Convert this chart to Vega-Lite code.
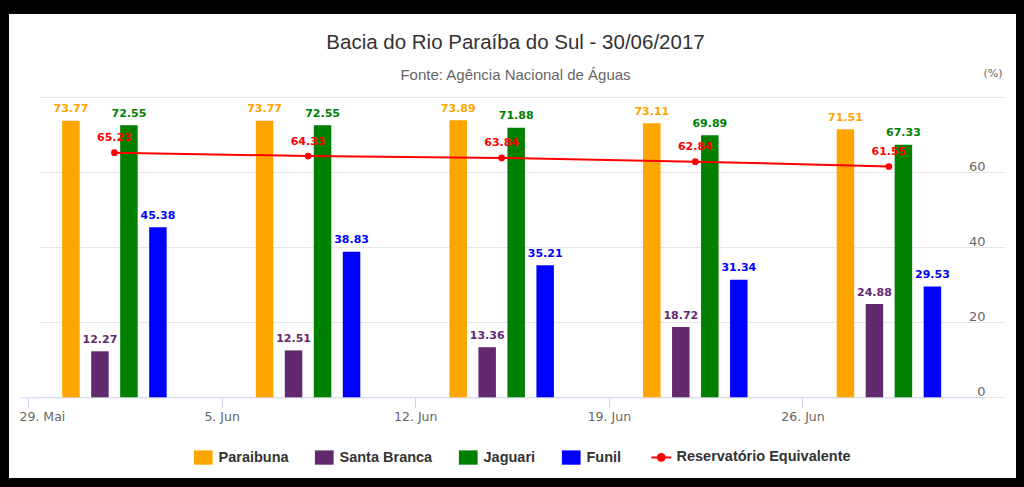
{
  "$schema": "https://vega.github.io/schema/vega-lite/v6.json",
  "width": 1007,
  "height": 464,
  "autosize": {"type": "none"},
  "padding": {"left": 9, "top": 14, "right": 8, "bottom": 9},
  "background": "#000000",
  "config": {"view": {"fill": "#ffffff", "stroke": null}},
  "title": {
    "text": "Bacia do Rio Paraíba do Sul - 30/06/2017",
    "subtitle": "Fonte: Agência Nacional de Águas",
    "anchor": "middle",
    "frame": "group",
    "offset": -69,
    "dx": 3,
    "font": "Liberation Sans",
    "fontSize": 20.5,
    "fontWeight": "normal",
    "color": "#333333",
    "subtitleFont": "Liberation Sans",
    "subtitleFontSize": 15,
    "subtitleColor": "#666666",
    "subtitlePadding": 15
  },
  "data": {
    "values": [
      {"date": "2017-06-01T03:00:00Z", "series": "Paraibuna", "value": 73.77},
      {"date": "2017-06-01T03:00:00Z", "series": "Santa Branca", "value": 12.27},
      {"date": "2017-06-01T03:00:00Z", "series": "Jaguari", "value": 72.55},
      {"date": "2017-06-01T03:00:00Z", "series": "Funil", "value": 45.38},
      {"date": "2017-06-01T03:00:00Z", "series": "Reservatório Equivalente", "value": 65.23},
      {"date": "2017-06-08T03:00:00Z", "series": "Paraibuna", "value": 73.77},
      {"date": "2017-06-08T03:00:00Z", "series": "Santa Branca", "value": 12.51},
      {"date": "2017-06-08T03:00:00Z", "series": "Jaguari", "value": 72.55},
      {"date": "2017-06-08T03:00:00Z", "series": "Funil", "value": 38.83},
      {"date": "2017-06-08T03:00:00Z", "series": "Reservatório Equivalente", "value": 64.33},
      {"date": "2017-06-15T03:00:00Z", "series": "Paraibuna", "value": 73.89},
      {"date": "2017-06-15T03:00:00Z", "series": "Santa Branca", "value": 13.36},
      {"date": "2017-06-15T03:00:00Z", "series": "Jaguari", "value": 71.88},
      {"date": "2017-06-15T03:00:00Z", "series": "Funil", "value": 35.21},
      {"date": "2017-06-15T03:00:00Z", "series": "Reservatório Equivalente", "value": 63.84},
      {"date": "2017-06-22T03:00:00Z", "series": "Paraibuna", "value": 73.11},
      {"date": "2017-06-22T03:00:00Z", "series": "Santa Branca", "value": 18.72},
      {"date": "2017-06-22T03:00:00Z", "series": "Jaguari", "value": 69.89},
      {"date": "2017-06-22T03:00:00Z", "series": "Funil", "value": 31.34},
      {"date": "2017-06-22T03:00:00Z", "series": "Reservatório Equivalente", "value": 62.84},
      {"date": "2017-06-29T03:00:00Z", "series": "Paraibuna", "value": 71.51},
      {"date": "2017-06-29T03:00:00Z", "series": "Santa Branca", "value": 24.88},
      {"date": "2017-06-29T03:00:00Z", "series": "Jaguari", "value": 67.33},
      {"date": "2017-06-29T03:00:00Z", "series": "Funil", "value": 29.53},
      {"date": "2017-06-29T03:00:00Z", "series": "Reservatório Equivalente", "value": 61.55}
    ]
  },
  "encoding": {
    "x": {
      "field": "date",
      "type": "temporal",
      "scale": {
        "type": "utc",
        "domain": [
          {"year": 2017, "month": 5, "date": 28, "hours": 17, "minutes": 4, "utc": true},
          {"year": 2017, "month": 7, "date": 2, "hours": 14, "minutes": 22, "utc": true}
        ],
        "range": [11, 976],
        "padding": 0
      },
      "axis": {
        "values": [
          {"year": 2017, "month": 5, "date": 29, "utc": true},
          {"year": 2017, "month": 6, "date": 5, "utc": true},
          {"year": 2017, "month": 6, "date": 12, "utc": true},
          {"year": 2017, "month": 6, "date": 19, "utc": true},
          {"year": 2017, "month": 6, "date": 26, "utc": true}
        ],
        "labelExpr": "utcdate(datum.value) + '. ' + (utcmonth(datum.value) == 4 ? 'Mai' : 'Jun')",
        "offset": -80.7,
        "title": null,
        "grid": false,
        "domainColor": "#ccd6eb",
        "tickColor": "#ccd6eb",
        "tickSize": 10,
        "labelColor": "#666666",
        "labelFont": "DejaVu Sans",
        "labelFontSize": 12.5,
        "labelPadding": 3.5,
        "labelFlush": 20,
        "labelFlushOffset": 9,
        "labelOverlap": false
      }
    },
    "y": {
      "field": "value",
      "type": "quantitative",
      "stack": null,
      "scale": {"domain": [0, 80], "range": [383.3, 83.3], "nice": false, "zero": false},
      "axis": {
        "orient": "right",
        "values": [0, 20, 40, 60, 80],
        "domain": false,
        "ticks": false,
        "labelAlign": "right",
        "labelPadding": -31,
        "labelBaseline": "alphabetic",
        "labelOffset": -2,
        "labelExpr": "datum.value == 80 ? '' : datum.label",
        "labelColor": "#666666",
        "labelFont": "DejaVu Sans",
        "labelFontSize": 13,
        "gridColor": "#e6e6e6",
        "title": "(%)",
        "titleAngle": 0,
        "titleX": -23.5,
        "titleY": 59.5,
        "titleAlign": "center",
        "titleBaseline": "middle",
        "titleColor": "#666666",
        "titleFont": "DejaVu Sans",
        "titleFontSize": 11,
        "titleFontWeight": "normal"
      }
    },
    "color": {
      "field": "series",
      "type": "nominal",
      "scale": {
        "domain": ["Paraibuna", "Santa Branca", "Jaguari", "Funil", "Reservatório Equivalente"],
        "range": ["#ffa500", "#63296f", "#008000", "#0000ff", "#ff0000"]
      },
      "legend": {
        "orient": "none",
        "legendX": 187,
        "legendY": 436,
        "direction": "horizontal",
        "title": null,
        "padding": 0,
        "labelFont": "Liberation Sans",
        "labelFontSize": 14.5,
        "labelFontWeight": "bold",
        "labelColor": "#333333",
        "labelLimit": 400,
        "symbolSize": 350,
        "labelOffset": 8,
        "columnPadding": 25,
        "symbolType": "square",
        "encode": {
          "symbols": {
            "update": {
              "shape": {"signal": "datum.value == 'Reservatório Equivalente' ? 'M-1.07,0H1.07M0.37,0A0.37,0.37,0,1,1,-0.37,0A0.37,0.37,0,1,1,0.37,0Z' : 'M-1,-0.765H1V0.765H-1Z'"},
              "strokeWidth": {"signal": "datum.value == 'Reservatório Equivalente' ? 2 : 0"},
              "fill": {"scale": "color", "field": "value"},
              "stroke": {"scale": "color", "field": "value"},
              "opacity": {"value": 1},
              "fillOpacity": {"value": 1}
            }
          }
        }
      }
    }
  },
  "layer": [
    {
      "transform": [{"filter": "datum.series != 'Reservatório Equivalente'"}],
      "mark": {
        "type": "bar",
        "width": 17.5,
        "xOffset": {"expr": "datum.series == 'Paraibuna' ? -43.5 : datum.series == 'Santa Branca' ? -14.5 : datum.series == 'Jaguari' ? 14.5 : 43.5"}
      }
    },
    {
      "transform": [{"filter": "datum.series != 'Reservatório Equivalente'"}],
      "mark": {
        "type": "text",
        "baseline": "alphabetic",
        "dy": -8.5,
        "font": "DejaVu Sans",
        "fontSize": 11,
        "fontWeight": "bold",
        "xOffset": {"expr": "datum.series == 'Paraibuna' ? -43.5 : datum.series == 'Santa Branca' ? -14.5 : datum.series == 'Jaguari' ? 14.5 : 43.5"}
      },
      "encoding": {
        "text": {"field": "value", "type": "quantitative", "format": ".2f"}
      }
    },
    {
      "transform": [{"filter": "datum.series == 'Reservatório Equivalente'"}],
      "mark": {"type": "line", "strokeWidth": 2, "point": {"filled": true, "size": 45}}
    },
    {
      "transform": [{"filter": "datum.series == 'Reservatório Equivalente'"}],
      "mark": {"type": "text", "baseline": "alphabetic", "dy": -11.5, "font": "DejaVu Sans", "fontSize": 11, "fontWeight": "bold"},
      "encoding": {
        "text": {"field": "value", "type": "quantitative", "format": ".2f"}
      }
    }
  ]
}
